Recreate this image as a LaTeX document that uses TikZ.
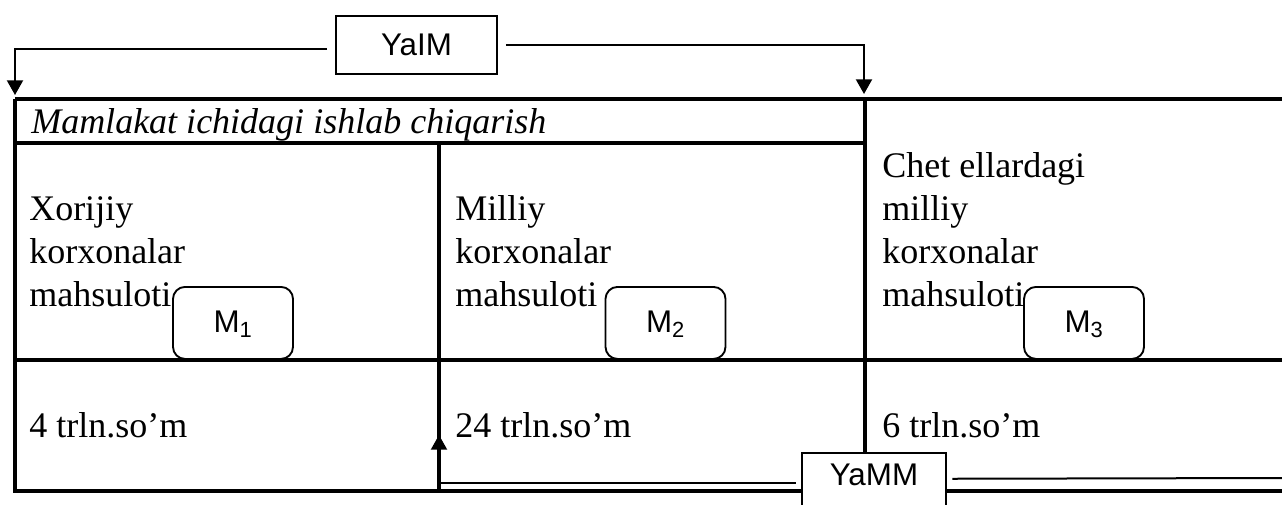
\documentclass[tikz,border=0pt]{standalone}
\usepackage{fontspec}
\setmainfont{Liberation Serif}
\newfontfamily\arialf{Liberation Sans}
\usetikzlibrary{arrows.meta}
\begin{document}
\begin{tikzpicture}[x=0.75pt,y=-0.75pt,
  tablerule/.style={line width=2.4pt},
  conn/.style={line width=1.5pt},
  arr/.style={-{Triangle[width=12pt,length=11pt]}},
  lbl/.style={anchor=base west, inner sep=0pt, font=\fontsize{27}{32}\selectfont},
  tagbox/.style={draw, line width=1.4pt, fill=white, inner sep=0pt,
    font=\arialf\fontsize{23.5}{27}\selectfont},
  mbox/.style={tagbox, rounded corners=9pt, minimum width=90pt,
    text height=34.5pt, text depth=19.5pt, anchor=north}]
\useasboundingbox (0,0) rectangle (1282,504);
\clip (0,0) rectangle (1282,504);
\fill[white] (0,0) rectangle (1282,504);

% table rules
\draw[tablerule] (15,99) -- (1282,99);
\draw[tablerule] (15,99) -- (15,491) -- (1282,491);
\draw[tablerule] (15,143) -- (865,143);
\draw[tablerule] (865,99) -- (865,452);
\draw[tablerule] (439,143) -- (439,491);
\draw[tablerule] (15,360) -- (1282,360);

% texts
\node[lbl, font=\itshape\fontsize{27}{32}\selectfont] (t0) at (31,133) {Mamlakat ichidagi ishlab chiqarish};
\node[lbl] (a1) at (29,220) {Xorijiy};
\node[lbl] (a2) at (29,263) {korxonalar};
\node[lbl] (a3) at (29,306) {mahsuloti};
\node[lbl] (b1) at (455,220) {Milliy};
\node[lbl] (b2) at (455,263) {korxonalar};
\node[lbl] (b3) at (455,306) {mahsuloti};
\node[lbl] (c0) at (882,177) {Chet ellardagi};
\node[lbl] (c1) at (882,220) {milliy};
\node[lbl] (c2) at (882,263) {korxonalar};
\node[lbl] (c3) at (882,306) {mahsuloti};
\node[lbl] (v1) at (29,437) {4 trln.so’m};
\node[lbl] (v2) at (455,437) {24 trln.so’m};
\node[lbl] (v3) at (882,437) {6 trln.so’m};

% M boxes
\node[mbox] (m1) at (233,286) {M\textsubscript{1}};
\node[mbox] (m2) at (665.5,286) {M\textsubscript{2}};
\node[mbox] (m3) at (1084,286) {M\textsubscript{3}};

% YaIM
\node[tagbox, anchor=north, minimum width=120.75pt, text height=30pt, text depth=13.5pt] (yaim) at (416.5,15) {YaIM};
\coordinate (tl) at (15,95);
\coordinate (tr) at (864,94);
\draw[conn, arr, shorten <=6pt] ([yshift=-3pt]yaim.west) -| (tl);
\draw[conn, arr, shorten <=6pt] (yaim.east) -| (tr);

% YaMM
\node[tagbox, anchor=north, minimum width=108pt, text height=24.75pt, text depth=26pt] (yamm) at (874,452) {YaMM};
\coordinate (ba) at (439,435);
\coordinate (re) at (1282,478);
\draw[conn, arr, shorten <=4pt] ([yshift=3pt]yamm.west) -| (ba);
\draw[conn, shorten <=4pt] ([yshift=6pt]yamm.east) -- (re);
\end{tikzpicture}
\end{document}
